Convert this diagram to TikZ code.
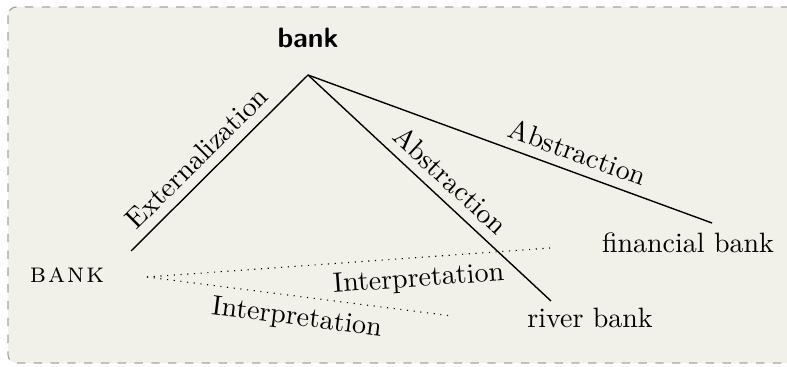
\documentclass[tikz,border=0pt]{standalone}
\usepackage{tikz}

\definecolor{panelfill}{RGB}{241,240,233}
\definecolor{panelrule}{RGB}{165,165,165}

\begin{document}
\begin{tikzpicture}[
    x=0.35714pt, y=-0.35714pt,
    panel/.style={draw=panelrule, fill=panelfill, dashed, line width=0.45pt, rounded corners=3pt},
    word/.style={inner sep=0pt, anchor=base},
    abstr/.style={line width=0.5pt},
    interp/.style={dotted, line width=0.4pt},
    tag/.style={sloped, font=\normalsize}
  ]
  \useasboundingbox (0,0) rectangle (787,367);

  % background panel
  \draw[panel] (8,7) rectangle (800,363);

  % the word at its different levels
  \node[word, font=\sffamily\bfseries] (concept) at (308,48) {bank};
  \node[word] (form) at (67,283) {\textsc{b\kern0.7pt a\kern0.7pt n\kern0.7pt k}};
  \node[word] (fin) at (688,253) {financial bank};
  \node[word] (river) at (590,327) {river bank};

  % connector end points
  \coordinate (apex) at (308,75);
  \coordinate (extEnd) at (131,251);
  \coordinate (riverEnd) at (551,301);
  \coordinate (finEnd) at (712,223);
  \coordinate (formOut) at (147,277);
  \coordinate (finIn) at (550,248);
  \coordinate (riverIn) at (452,316);

  % externalization and abstraction
  \draw[abstr] (extEnd) -- node[tag, above, pos=0.45] {Externalization} (apex);
  \draw[abstr] (apex) -- node[tag, above, pos=0.53] {Abstraction} (riverEnd);
  \draw[abstr] (apex) -- node[tag, above, pos=0.65] {Abstraction} (finEnd);

  % interpretation
  \draw[interp] (formOut) -- node[tag, below, pos=0.67] {Interpretation} (finIn);
  \draw[interp] (formOut) -- node[tag, below, pos=0.5] {Interpretation} (riverIn);
\end{tikzpicture}
\end{document}
